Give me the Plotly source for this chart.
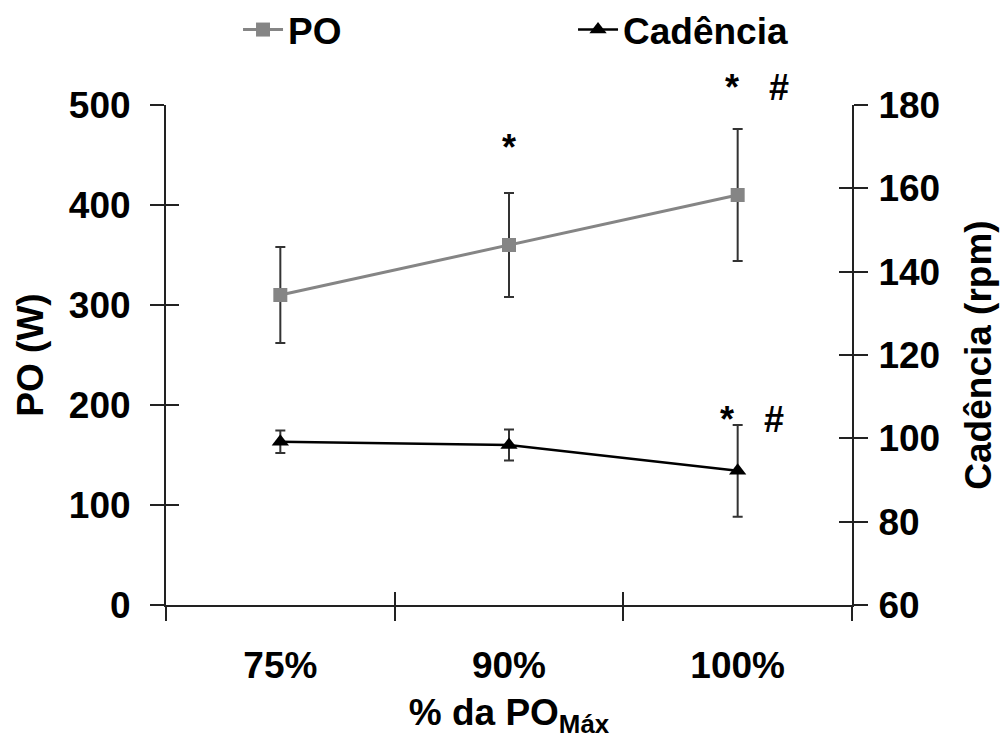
import plotly.graph_objects as go

categories = ["75%", "90%", "100%"]
po_mean = [310, 360, 410]
po_sd = [48, 52, 66]
cad_mean = [99.2, 98.4, 92.2]
cad_sd = [2.7, 3.7, 11.0]

PO_RANGE = [0, 500]
CAD_RANGE = [60, 180]

# significance marks: (category, y in data units, text, xshift)
NB = "\u00a0"
sig_po = [("90%", 480, "*", 0), ("100%", 540, "*" + NB * 3 + "#", 19)]
sig_cad = [("100%", 104.5, "*" + NB * 3 + "#", 14)]

FONT = "Liberation Sans, Arial, sans-serif"
AX = "#222222"

fig = go.Figure()
fig.add_trace(go.Scatter(
    x=categories, y=po_mean, name="PO", mode="lines+markers",
    line=dict(color="#858585", width=3),
    marker=dict(symbol="square", size=14, color="#858585"),
    error_y=dict(type="data", array=po_sd, visible=True, color="#333333", thickness=2, width=5),
    yaxis="y",
))
fig.add_trace(go.Scatter(
    x=categories, y=cad_mean, name="Cadência", mode="lines+markers",
    line=dict(color="#000000", width=2.5),
    marker=dict(symbol="triangle-up", size=15, color="#000000"),
    error_y=dict(type="data", array=cad_sd, visible=True, color="#333333", thickness=2, width=5),
    yaxis="y2",
))
# empty helper traces so the tick-overlay axes are always drawn
fig.add_trace(go.Scatter(x=[], y=[], xaxis="x2", yaxis="y3", showlegend=False, hoverinfo="skip"))
fig.add_trace(go.Scatter(x=[], y=[], xaxis="x2", yaxis="y4", showlegend=False, hoverinfo="skip"))

tickfont = dict(family=FONT, size=37, color="#000", weight="bold")
sigfont = dict(family=FONT, size=36, color="#000", weight="bold")


def frac(v, rng):
    return (v - rng[0]) / (rng[1] - rng[0])


annotations = []
for cat, yv, txt, xs in sig_po:
    annotations.append(dict(x=cat, y=frac(yv, PO_RANGE), xref="x", yref="y domain", text=txt,
                            showarrow=False, xshift=xs, font=sigfont))
for cat, yv, txt, xs in sig_cad:
    annotations.append(dict(x=cat, y=frac(yv, CAD_RANGE), xref="x", yref="y domain", text=txt,
                            showarrow=False, xshift=xs, font=sigfont))

fig.update_layout(
    width=1007, height=743,
    margin=dict(l=166, r=155, t=105, b=138, autoexpand=False),
    paper_bgcolor="white", plot_bgcolor="white",
    font=dict(family=FONT, color="#000"),
    showlegend=True,
    legend=dict(orientation="h", x=0.105, xanchor="left", y=1.15, yanchor="middle",
                font=dict(family=FONT, size=37, color="#000", weight="bold"),
                entrywidth=280, entrywidthmode="pixels", itemwidth=40,
                bgcolor="rgba(0,0,0,0)"),
    xaxis=dict(type="category", categoryorder="array", categoryarray=categories,
               range=[-0.5, 2.5], tickson="boundaries", ticks="outside", ticklen=14,
               tickwidth=2, tickcolor=AX, showline=True, linecolor=AX, linewidth=2,
               showgrid=False, zeroline=False, tickfont=tickfont, ticklabelstandoff=27,
               title=dict(text="% da PO<sub>Máx</sub>", font=tickfont, standoff=14),
               automargin=False),
    yaxis=dict(range=PO_RANGE, dtick=100, ticks="outside", ticklen=14, tickwidth=2,
               tickcolor=AX, showline=True, linecolor=AX, linewidth=2, showgrid=False,
               zeroline=False, tickfont=tickfont, ticklabelstandoff=12,
               title=dict(text="PO (W)", font=tickfont, standoff=14), automargin=False),
    yaxis2=dict(range=CAD_RANGE, dtick=20, overlaying="y", side="right", ticks="outside",
                ticklen=14, tickwidth=2, tickcolor=AX, showline=True, linecolor=AX,
                linewidth=2, showgrid=False, zeroline=False, tickfont=tickfont,
                ticklabelstandoff=3,
                title=dict(text="Cadência (rpm)", font=tickfont, standoff=26), automargin=False),
    # overlay axes to make ticks cross the axis lines
    yaxis3=dict(range=PO_RANGE, dtick=100, overlaying="y", side="left", anchor="x2",
                ticks="inside", ticklen=13, tickwidth=2, tickcolor=AX, showticklabels=False,
                showline=False, showgrid=False, zeroline=False),
    yaxis4=dict(range=CAD_RANGE, dtick=20, overlaying="y", side="right", anchor="x2",
                ticks="inside", ticklen=13, tickwidth=2, tickcolor=AX, showticklabels=False,
                showline=False, showgrid=False, zeroline=False),
    xaxis2=dict(range=[-0.5, 2.5], tickmode="array", tickvals=[-0.5, 0.5, 1.5, 2.5],
                overlaying="x", side="bottom", anchor="y", ticks="inside", ticklen=13,
                tickwidth=2, tickcolor=AX, showticklabels=False, showline=False,
                showgrid=False, zeroline=False),
    annotations=annotations,
)

fig.write_html("out.html")
